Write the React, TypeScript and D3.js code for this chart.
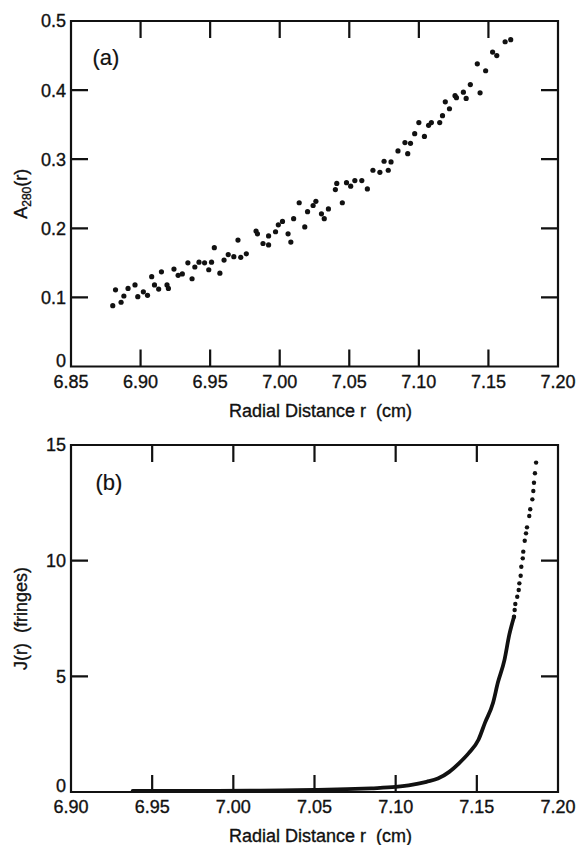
import React from "react";
import * as d3 from "d3";

// ---------- Panel (a) data ----------
const topR = [
  6.880, 6.882, 6.886, 6.888, 6.891, 6.896, 6.898, 6.902, 6.905, 6.908,
  6.910, 6.913, 6.915, 6.919, 6.920, 6.924, 6.927, 6.930, 6.934, 6.937,
  6.939, 6.942, 6.946, 6.949, 6.951, 6.953, 6.957, 6.960, 6.963, 6.967,
  6.970, 6.972, 6.976, 6.983, 6.984, 6.988, 6.992, 6.992, 6.997, 6.999,
  7.002, 7.006, 7.008, 7.010, 7.014, 7.018, 7.020, 7.024, 7.026, 7.030,
  7.032, 7.035, 7.040, 7.041, 7.045, 7.048, 7.051, 7.054, 7.059, 7.063,
  7.067, 7.072, 7.075, 7.078, 7.080, 7.085, 7.090, 7.092, 7.094, 7.097,
  7.100, 7.104, 7.107, 7.109, 7.115, 7.117, 7.119, 7.122, 7.126, 7.127,
  7.132, 7.134, 7.137, 7.142, 7.144, 7.148, 7.153, 7.156, 7.162, 7.166,
];
const topA = [
  0.088, 0.111, 0.093, 0.102, 0.113, 0.118, 0.101, 0.108, 0.103, 0.130,
  0.118, 0.112, 0.137, 0.118, 0.113, 0.141, 0.132, 0.134, 0.150, 0.127,
  0.144, 0.151, 0.150, 0.140, 0.151, 0.172, 0.135, 0.154, 0.162, 0.159,
  0.183, 0.158, 0.163, 0.196, 0.192, 0.178, 0.189, 0.176, 0.195, 0.205,
  0.210, 0.192, 0.180, 0.214, 0.237, 0.202, 0.224, 0.233, 0.239, 0.221,
  0.214, 0.228, 0.256, 0.265, 0.237, 0.266, 0.261, 0.269, 0.269, 0.257,
  0.284, 0.281, 0.297, 0.284, 0.296, 0.312, 0.324, 0.308, 0.323, 0.337,
  0.353, 0.333, 0.349, 0.353, 0.353, 0.363, 0.383, 0.373, 0.392, 0.389,
  0.397, 0.388, 0.408, 0.438, 0.396, 0.428, 0.455, 0.450, 0.470, 0.473,
];
const topXTicks = [6.85, 6.9, 6.95, 7.0, 7.05, 7.1, 7.15, 7.2];
const topXLabels = ["6.85", "6.90", "6.95", "7.00", "7.05", "7.10", "7.15", "7.20"];
const topYTicks = [0, 0.1, 0.2, 0.3, 0.4, 0.5];
const topYLabels = ["0", "0.1", "0.2", "0.3", "0.4", "0.5"];

// ---------- Panel (b) data ----------
// dense, merged part of the trace
const curveR = [
  6.938, 6.950, 6.970, 6.990, 7.010, 7.030, 7.050, 7.070, 7.085, 7.100,
  7.108, 7.119, 7.126, 7.133, 7.139, 7.145, 7.151, 7.155, 7.160, 7.163,
  7.167, 7.170, 7.1729,
];
const curveJ = [
  0.05, 0.05, 0.05, 0.05, 0.06, 0.07, 0.09, 0.12, 0.16, 0.22,
  0.29, 0.44, 0.58, 0.87, 1.24, 1.68, 2.26, 2.99, 3.86, 4.74,
  5.70, 6.80, 7.58,
];
// separately visible points at the top of the trace
const dotR = [
  7.1729, 7.1733, 7.1737, 7.1749, 7.1758, 7.1762, 7.1770, 7.1774, 7.1783, 7.1786,
  7.1795, 7.1803, 7.1809, 7.1823, 7.1829, 7.1842, 7.1848, 7.1852, 7.1858, 7.1865,
];
const dotJ = [
  7.58, 7.87, 8.13, 8.44, 8.73, 9.02, 9.35, 9.74, 10.10, 10.39,
  10.86, 11.18, 11.44, 11.93, 12.22, 12.65, 13.01, 13.37, 13.78, 14.24,
];
const botXTicks = [6.9, 6.95, 7.0, 7.05, 7.1, 7.15, 7.2];
const botXLabels = ["6.90", "6.95", "7.00", "7.05", "7.10", "7.15", "7.20"];
const botYTicks = [0, 5, 10, 15];
const botYLabels = ["0", "5", "10", "15"];

const FONT = "'Liberation Sans', Arial, Helvetica, sans-serif";
const TICK = 17;
const INK = "#111";

type PanelProps = {
  x: d3.ScaleLinear<number, number>;
  y: d3.ScaleLinear<number, number>;
  xTicks: number[];
  xLabels: string[];
  yTicks: number[];
  yLabels: string[];
  tag: string;
  tagX: number;
  tagY: number;
  children?: React.ReactNode;
  yTitle: React.ReactNode;
};

const txt = { fontFamily: FONT, fill: INK, stroke: INK, strokeWidth: 0.35 } as const;

function Panel({ x, y, xTicks, xLabels, yTicks, yLabels, tag, tagX, tagY, children, yTitle }: PanelProps) {
  const [x0, x1] = x.range();
  const [y0, y1] = y.range(); // y0 bottom, y1 top
  const innerX = xTicks.slice(1, -1);
  const innerY = yTicks.slice(1, -1);
  const p = d3.path();
  p.moveTo(x0, y1);
  p.lineTo(x1, y1);
  p.lineTo(x1, y0);
  p.lineTo(x0, y0);
  p.closePath();
  innerX.forEach((t) => {
    p.moveTo(x(t), y0);
    p.lineTo(x(t), y0 - TICK);
    p.moveTo(x(t), y1);
    p.lineTo(x(t), y1 + TICK);
  });
  innerY.forEach((t) => {
    p.moveTo(x0, y(t));
    p.lineTo(x0 + TICK, y(t));
    p.moveTo(x1, y(t));
    p.lineTo(x1 - TICK, y(t));
  });
  return (
    <g>
      {children}
      <path d={p.toString()} fill="none" stroke={INK} strokeWidth={2.2} strokeLinecap="butt" />
      {xTicks.map((t, i) => (
        <text key={"xl" + t} x={x(t)} y={y0 + 21} textAnchor="middle" fontSize={18} {...txt}>
          {xLabels[i]}
        </text>
      ))}
      {yTicks.map((t, i) => (
        <text key={"yl" + t} x={x0 - 5} y={y(t) + (i === 0 ? -6 : 0)} dy="0.36em" textAnchor="end" fontSize={18} {...txt}>
          {yLabels[i]}
        </text>
      ))}
      <text x={tagX} y={tagY} textAnchor="middle" fontSize={22} {...txt} strokeWidth={0.2}>
        {tag}
      </text>
      <text x={(x0 + x1) / 2 + 6} y={y0 + 50} textAnchor="middle" fontSize={18} {...txt} style={{ whiteSpace: "pre" }}>
        {"Radial Distance r  (cm)"}
      </text>
      <text
        transform={`translate(27,${(y0 + y1) / 2}) rotate(-90)`}
        textAnchor="middle"
        fontSize={18}
        {...txt}
        style={{ whiteSpace: "pre" }}
      >
        {yTitle}
      </text>
    </g>
  );
}

export default function App() {
  const xA = d3.scaleLinear().domain([6.85, 7.2]).range([71, 558]);
  const yA = d3.scaleLinear().domain([0, 0.5]).range([366.5, 21]);
  const xB = d3.scaleLinear().domain([6.9, 7.2]).range([71, 558]);
  const yB = d3.scaleLinear().domain([0, 15]).range([792, 445]);

  const curve = d3
    .line<number>()
    .x((_, i) => xB(curveR[i]))
    .y((d) => yB(d))
    .curve(d3.curveMonotoneX);

  return (
    <svg
      width={582}
      height={845}
      style={{ position: "absolute", left: 0, top: 0, background: "#fff", display: "block" }}
    >
      <Panel
        x={xA}
        y={yA}
        xTicks={topXTicks}
        xLabels={topXLabels}
        yTicks={topYTicks}
        yLabels={topYLabels}
        tag="(a)"
        tagX={106}
        tagY={65}
        yTitle={
          <>
            <tspan>A</tspan>
            <tspan fontSize={12} dy={4}>280</tspan>
            <tspan dy={-4}>(r)</tspan>
          </>
        }
      >
        {topR.map((r, i) => (
          <circle key={i} cx={xA(r)} cy={yA(topA[i])} r={2.6} fill={INK} />
        ))}
      </Panel>
      <Panel
        x={xB}
        y={yB}
        xTicks={botXTicks}
        xLabels={botXLabels}
        yTicks={botYTicks}
        yLabels={botYLabels}
        tag="(b)"
        tagX={109}
        tagY={490}
        yTitle={"J(r)  (fringes)"}
      >
        <path d={curve(curveJ) || ""} fill="none" stroke={INK} strokeWidth={3.8} strokeLinecap="round" />
        {dotR.map((r, i) => (
          <circle key={i} cx={xB(r)} cy={yB(dotJ[i])} r={2.2} fill={INK} />
        ))}
      </Panel>
    </svg>
  );
}
